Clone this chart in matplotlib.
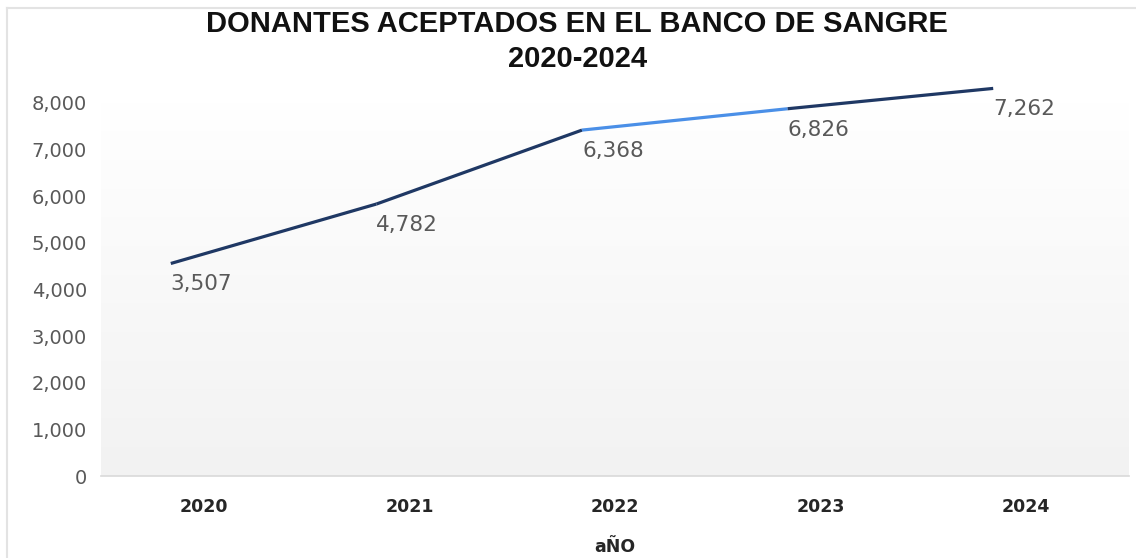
import matplotlib
matplotlib.use("Agg")
import matplotlib.pyplot as plt
import numpy as np
from matplotlib.transforms import offset_copy
from matplotlib.colors import LinearSegmentedColormap

# datos
anios = ["2020", "2021", "2022", "2023", "2024"]
donantes = [3507, 4782, 6368, 6826, 7262]
y_ticks = [0, 1000, 2000, 3000, 4000, 5000, 6000, 7000, 8000]

oscuro = "#1F3864"
claro = "#4A8FE7"
colores_tramo = [oscuro, oscuro, claro, oscuro]

fig = plt.figure(figsize=(11.36, 5.58), dpi=100)
ax = fig.add_axes([101 / 1136, 82 / 558, 1028 / 1136, 373 / 558])

# fondo degradado del area de trazado
cmap = LinearSegmentedColormap.from_list("fondo", ["#FFFFFF", "#F2F2F2"])
grad = np.linspace(0, 1, 256).reshape(-1, 1)
ax.imshow(grad, aspect="auto", cmap=cmap, extent=[0, 1, 0, 1],
          transform=ax.transAxes, zorder=0)

x = np.arange(len(anios))
# la linea esta desplazada respecto a los ejes (como en la imagen original)
tr = offset_copy(ax.transData, fig=fig, x=-33, y=49, units="dots")
for i in range(len(x) - 1):
    ax.plot(x[i:i + 2], donantes[i:i + 2], color=colores_tramo[i], lw=2.3,
            solid_capstyle="butt", transform=tr, clip_on=False, zorder=3)

tr_lbl = offset_copy(ax.transData, fig=fig, x=-33, y=28, units="dots")
for xi, v in zip(x, donantes):
    ax.text(xi, v, f"{v:,}", transform=tr_lbl, ha="left", va="center",
            fontsize=15.5, color="#595959", family="DejaVu Sans", zorder=4)

ax.set_xlim(-0.5, len(anios) - 0.5)
ax.set_ylim(0, 8000)
ax.set_xticks(x)
ax.set_xticklabels(anios, fontsize=12.5, fontweight="bold", color="#262626")
ax.set_yticks(y_ticks)
ax.set_yticklabels([f"{t:,}" for t in y_ticks], fontsize=14, color="#595959")
ax.tick_params(axis="both", length=0)
ax.tick_params(axis="y", pad=10)
ax.tick_params(axis="x", pad=16)

for s in ["top", "right", "left"]:
    ax.spines[s].set_visible(False)
ax.spines["bottom"].set_color("#D9D9D9")
ax.spines["bottom"].set_linewidth(1.2)

ax.set_xlabel("aÑO", fontsize=12.5, fontweight="bold", color="#262626", labelpad=16)

fig.text(0.508, 1 - 24 / 558, "DONANTES ACEPTADOS EN EL BANCO DE SANGRE",
         ha="center", va="center", fontsize=21, fontweight="bold",
         family="Liberation Sans", color="#111111")
fig.text(0.508, 1 - 59 / 558, "2020-2024",
         ha="center", va="center", fontsize=21, fontweight="bold",
         family="Liberation Sans", color="#111111")

# borde del grafico
fig.add_artist(plt.Line2D([7 / 1136, 1], [1 - 8 / 558, 1 - 8 / 558], color="#E3E3E3", lw=1.5))
fig.add_artist(plt.Line2D([7 / 1136, 7 / 1136], [0, 1 - 8 / 558], color="#E3E3E3", lw=1.5))

fig.savefig("out.png", dpi=100, facecolor="white")
